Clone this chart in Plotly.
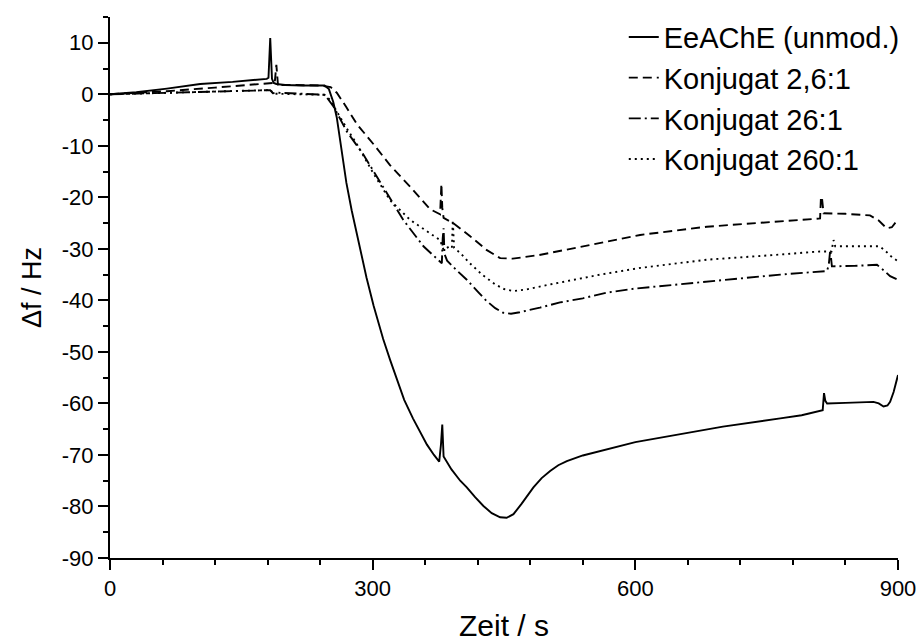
import plotly.graph_objects as go

# ---- data ----
x_eeache = [0, 30, 65, 103, 140, 179, 181, 183, 185, 187, 190, 200, 220, 245, 250, 255, 259, 264, 270, 276, 282,
            288, 293, 301, 312, 320, 327.5, 336, 346, 354, 362, 370, 376, 378, 379.5, 381, 390, 400, 407.5, 417,
            426.5, 436, 445.6, 453, 460.8, 470, 483.6, 493, 502.7, 512, 521.8, 540, 559.8, 600, 650, 700, 765.5,
            790, 814, 815.5, 817, 819, 840, 872, 878, 883.5, 888, 891, 895, 900]
y_eeache = [0, 0.4, 1.1, 2.0, 2.4, 3.0, 3.2, 10.9, 3.0, 2.2, 2.0, 1.8, 1.7, 1.7, 1.0, -1.5, -4.5, -10, -17.2, -22.5, -27.2,
            -31.8, -35.6, -41.0, -47.5, -51.6, -55.3, -59.3, -62.9, -65.6, -68.0, -70.0, -71.3, -68, -64.1, -70.3, -72.8, -75.0,
            -76.3, -78.2, -79.9, -81.3, -82.1, -82.2, -81.5, -79.5, -76.3, -74.5, -73.1, -72.0, -71.2, -70.1, -69.2, -67.5,
            -66.0, -64.5, -62.9, -62.3, -61.3, -58.0, -59.5, -60.0, -59.9, -59.7, -60.0, -60.6, -60.4, -59.7, -57.8, -54.5]

x_k26 = [0, 65, 120, 179, 186, 188, 190, 192, 195, 210, 240, 252, 259, 270, 282, 301, 320, 343, 365.6, 377, 378.5,
         379.5, 381, 392, 411, 430, 445.6, 460, 490, 529, 605.5, 681.7, 757.8, 811, 812, 813, 815, 840, 868, 878, 887,
         893, 899]
y_k26 = [0, 0.6, 1.3, 2.0, 2.2, 2.0, 5.7, 1.5, 1.8, 1.8, 1.7, 1.4, 0.3, -2.5, -5.8, -9.7, -13.8, -18.0, -22.3, -23.3, -17.4,
         -22.0, -24.0, -25.0, -27.5, -30.2, -31.8, -31.9, -31.2, -29.9, -27.3, -25.7, -24.7, -24.1, -20.0, -19.9, -23.1,
         -23.2, -23.5, -24.5, -26.0, -25.8, -24.5]

x_k260 = [0, 65, 120, 179, 183, 186, 190, 220, 244, 248, 255, 262, 270, 289, 312, 335, 358, 370, 379, 380, 381, 382,
          385, 395, 407.5, 420, 430, 440, 449, 458, 468, 491, 514, 540, 567, 600, 681.7, 765.5, 819, 821, 822.6, 824.5,
          850, 876, 884, 891, 900]
y_k260 = [0, 0.3, 0.5, 0.7, 0.8, 0.2, 0.3, 0.1, -0.1, -0.7, -2.3, -4.5, -7.1, -11.6, -18.0, -24.4, -29.5, -31.5, -32.8,
          -28.0, -26.0, -31.0, -32.3, -34.0, -36.0, -38.3, -40.1, -41.5, -42.4, -42.6, -42.3, -41.4, -40.4, -39.6, -38.5,
          -37.7, -36.3, -35.0, -34.3, -33.0, -30.2, -33.4, -33.3, -33.1, -34.2, -35.3, -36.0]

x_k2600 = [0, 65, 120, 179, 183, 186, 190, 220, 245, 251, 256, 263, 270, 282, 301, 320, 343, 365.6, 377, 381, 388,
           390.5, 391.5, 393, 400, 411, 425, 440, 450, 461, 475, 500, 529, 560, 605.5, 681.7, 757.8, 811, 824, 826.4,
           828.3, 850, 879, 885, 893, 900]
y_k2600 = [0, 0.3, 0.5, 0.8, 1.0, 0.2, 0.1, 0.0, -0.1, -1.0, -2.5, -4.5, -6.5, -9.7, -15.4, -20.6, -24.4, -27.0, -28.3,
           -30.2, -29.5, -29.8, -24.4, -29.8, -30.8, -32.8, -35.0, -36.9, -37.8, -38.2, -37.9, -37.0, -36.0, -35.0, -33.7,
           -32.1, -31.2, -30.5, -30.5, -28.3, -29.5, -29.5, -29.5, -30.3, -31.6, -32.4]

names = ["EeAChE (unmod.)", "Konjugat 2,6:1", "Konjugat 26:1", "Konjugat 260:1"]
x_ticks = [0, 300, 600, 900]
y_ticks = [10, 0, -10, -20, -30, -40, -50, -60, -70, -80, -90]

series = [
    (x_eeache, y_eeache, "solid"),
    (x_k26, y_k26, "9px,5px"),
    (x_k260, y_k260, "12px,4px,2px,4px"),
    (x_k2600, y_k2600, "2px,4px"),
]

FONT = "Liberation Sans, Arial, sans-serif"

fig = go.Figure()
for (xs, ys, dash), name in zip(series, names):
    fig.add_trace(go.Scatter(x=xs, y=ys, mode="lines", name=name,
                             line=dict(color="black", width=1.9, dash=dash)))

fig.update_layout(
    width=920, height=642,
    margin=dict(l=110, r=22, t=12, b=84),
    paper_bgcolor="white", plot_bgcolor="white",
    font=dict(family=FONT, color="black"),
    showlegend=True,
    legend=dict(x=0.652, y=1.01, xanchor="left", yanchor="top",
                font=dict(size=29, family=FONT, color="black"),
                bgcolor="rgba(0,0,0,0)", borderwidth=0, tracegroupgap=0),
)

fig.update_xaxes(
    range=[0, 900], tickvals=x_ticks, ticktext=[str(v) for v in x_ticks],
    showline=True, linecolor="black", linewidth=2, mirror=False,
    ticks="outside", ticklen=10, tickwidth=2, tickcolor="black",
    minor=dict(dtick=60, tick0=0, ticks="outside", ticklen=5, tickwidth=2, tickcolor="black", showgrid=False),
    showgrid=False, zeroline=False, automargin=False,
    tickfont=dict(size=22, family=FONT, color="black"),
    title=dict(text="Zeit / s", font=dict(size=30, family=FONT, color="black"), standoff=22),
)
fig.update_yaxes(
    range=[-90, 15], tickvals=y_ticks, ticktext=[str(v) for v in y_ticks],
    showline=True, linecolor="black", linewidth=2, mirror=False,
    ticks="outside", ticklen=10, tickwidth=2, tickcolor="black",
    minor=dict(dtick=5, tick0=0, ticks="outside", ticklen=5, tickwidth=2, tickcolor="black", showgrid=False),
    showgrid=False, zeroline=False, automargin=False,
    tickfont=dict(size=22, family=FONT, color="black"),
    title=dict(text="Δf / Hz", font=dict(size=27, family=FONT, color="black"), standoff=12),
)

fig.write_html("out.html")
